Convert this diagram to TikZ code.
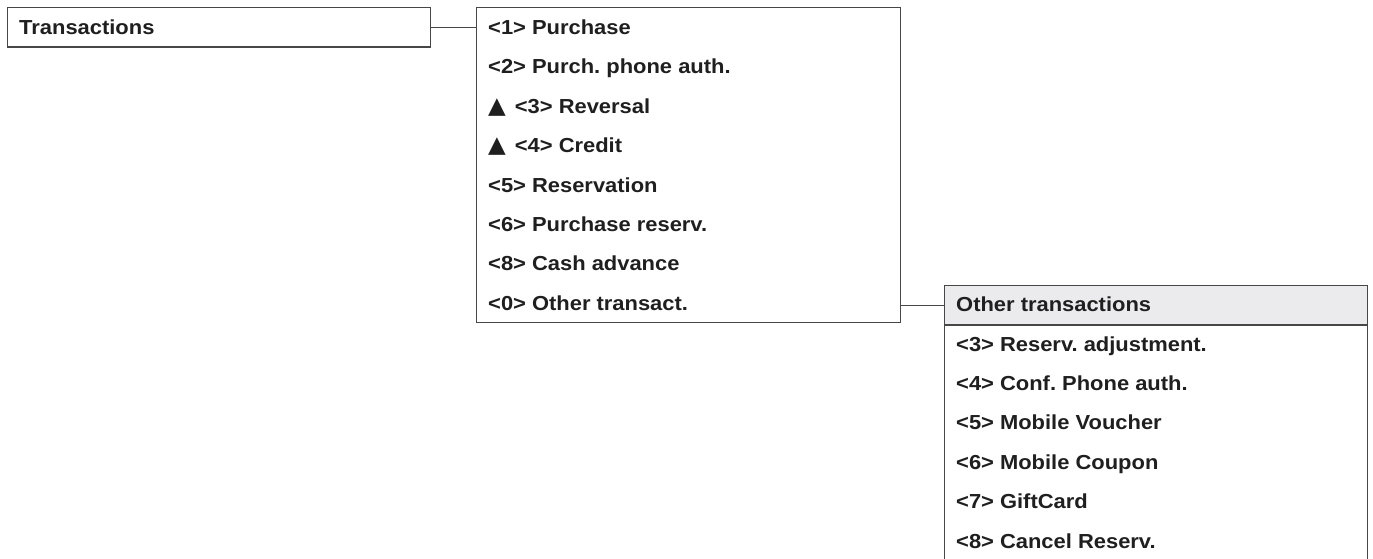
\documentclass[tikz,border=0pt]{standalone}
\usepackage{fontspec}
\setmainfont{Liberation Sans}[FakeStretch=1.08]
\newfontfamily\symfont{DejaVu Sans}
\definecolor{linec}{HTML}{474747}
\definecolor{textc}{HTML}{1F1F1F}
\definecolor{hdrfill}{HTML}{EBEBED}
\newcommand{\tri}{{\symfont\fontsize{23}{24}\selectfont ▲}\hspace{9pt}}
\frenchspacing
\begin{document}
\begin{tikzpicture}[x=1pt,y=-1pt,
  font=\fontsize{20.3}{24}\selectfont\bfseries\frenchspacing,
  box/.style={draw=linec, line width=1.3pt, fill=white, inner sep=0pt},
  rowtext/.style={text=textc, anchor=base west, inner sep=0pt},
  conn/.style={draw=linec, line width=1.3pt}]
\clip (0,0) rectangle (1373,559);
\fill[white] (0,0) rectangle (1373,559);
% Transactions
\node[box, anchor=north west, minimum width=423pt, minimum height=39.4pt] (trans) at (7,7) {};
\node[rowtext] (transt) at (19,34.4) {Transactions};
% main menu
\node[box, anchor=north west, minimum width=424pt, minimum height=315pt] (menu) at (476,7) {};
\node[rowtext] (m1) at (488,34.4) {<1> Purchase};
\node[rowtext] (m2) at (488,73.8) {<2> Purch. phone auth.};
\node[rowtext] (m3) at (488,113.2) {\tri<3> Reversal};
\node[rowtext] (m4) at (488,152.6) {\tri<4> Credit};
\node[rowtext] (m5) at (488,192) {<5> Reservation};
\node[rowtext] (m6) at (488,231.4) {<6> Purchase reserv.};
\node[rowtext] (m8) at (488,270.8) {<8> Cash advance};
\node[rowtext] (m0) at (488,310.2) {<0> Other transact.};
% other transactions
\node[box, anchor=north west, minimum width=423pt, minimum height=280pt] (obody) at (944,324.2) {};
\node[box, fill=hdrfill, anchor=north west, minimum width=423pt, minimum height=39.4pt] (ohdr) at (944,284.8) {};
\node[rowtext] (oh) at (956,311.7) {Other transactions};
\node[rowtext] (o3) at (956,351.1) {<3> Reserv. adjustment.};
\node[rowtext] (o4) at (956,390.5) {<4> Conf. Phone auth.};
\node[rowtext] (o5) at (956,429.9) {<5> Mobile Voucher};
\node[rowtext] (o6) at (956,469.3) {<6> Mobile Coupon};
\node[rowtext] (o7) at (956,508.7) {<7> GiftCard};
\node[rowtext] (o8) at (956,548.1) {<8> Cancel Reserv.};
% connectors
\draw[conn] (trans.east) -- (trans.east -| menu.west);
\draw[conn] (ohdr.west -| menu.east) -- (ohdr.west);
\end{tikzpicture}
\end{document}
